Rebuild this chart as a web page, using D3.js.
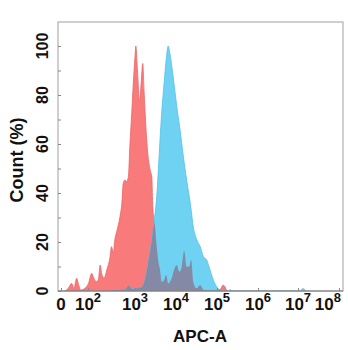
<!DOCTYPE html>
<html><head><meta charset="utf-8">
<script src="https://cdn.jsdelivr.net/npm/d3@7"></script>
<style>
html,body{margin:0;padding:0;background:#fff;}
text{font-family:"Liberation Sans",Arial,sans-serif;font-weight:bold;fill:#111;}
</style></head>
<body><svg id="c" width="348" height="350"></svg>
<script>
// x values are in axis units (log10 decades; 0 = "0")
const redX = [0.30,0.54,0.79,0.96,1.16,1.28,1.46,1.78,2.01,2.08,2.11,2.17,2.22,2.26,2.29,2.34,2.40,2.47,2.50,2.54,2.57,2.62,2.68,2.72,2.75,2.79,2.82,2.86,2.89,2.93,2.96,3.00,3.02,3.06,3.11,3.15,3.19,3.22,3.27,3.32,3.38,3.41,3.43,3.45,3.49,3.53,3.57,3.61,3.65,3.70,3.76,3.81,3.90,3.95,4.02,4.08,4.13,4.20,4.26,4.32,4.37,4.42,4.50,4.59,4.67,4.83,5.07,5.15,5.24];
const redY = [0,1.1,3.1,1.1,5.2,3.1,0.4,1.1,3.1,7.2,5.9,3.8,4.5,10.6,7.2,5.2,8.6,14.0,18.1,15.4,20.8,24.9,30.3,35.8,44.0,45.3,44.6,46.7,58.9,72.5,83.4,95.6,100,90.2,77.3,84.8,92.9,82.0,65.7,54.8,48.7,46.7,35.8,30.5,26.0,18.0,12.0,8.6,3.8,4.2,6.5,3.1,5.5,8.5,10.6,7.9,9.0,16.5,9.9,10.0,12.7,3.8,1.1,2.5,0.5,0.3,0.5,2.4,0];
const blueX = [2.50,2.57,2.80,2.86,2.94,3.07,3.16,3.24,3.32,3.41,3.47,3.53,3.57,3.61,3.65,3.71,3.76,3.81,3.85,3.92,3.98,4.03,4.10,4.18,4.26,4.36,4.42,4.51,4.59,4.67,4.75,4.83,4.91,4.99,5.07,5.17,5.28,5.32,5.36,7.05,7.12,7.19];
const blueY = [0,0.3,0.6,2.2,0.8,1.2,1.5,4.5,11.3,20.8,29.0,38.5,49.4,61.6,72.5,84.8,94.3,100,97.0,88.8,80.7,73.9,65.7,54.8,45.3,34.4,26.3,20.8,18.1,14.0,12.6,8.6,4.5,1.8,0.4,0,0,0.6,0,0,1.0,0];
const xTickVals = [0,2,3,4,5,6,7,8];
const xTickLabels = ["0","10|2","10|3","10|4","10|5","10|6","10|7","10|8"];
const yTickVals = [0,20,40,60,80,100];
const xTitle = "APC-A", yTitle = "Count  (%)";

const svg = d3.select("#c");
const L=58,R=343,T=22,B=291;
const x = d3.scaleLinear().domain([-0.22,0,2,3,4,5,6,7,8,8.1]).range([58,61,88,135,176,217,258,298,339,343]);
const y = d3.scaleLinear().domain([0,109.8]).range([B,T]);

const red = redX.map((v,i)=>[v,redY[i]]);
const blue = blueX.map((v,i)=>[v,blueY[i]]);
const area = d3.area().x(d=>x(d[0])).y0(y(0)).y1(d=>y(d[1])).curve(d3.curveMonotoneX);
const line = d3.line().x(d=>x(d[0])).y(d=>y(d[1])).curve(d3.curveMonotoneX);

const defs = svg.append("defs");
defs.append("clipPath").attr("id","bclip").append("path").attr("d",area(blue));
defs.append("clipPath").attr("id","plot").append("rect").attr("x",L).attr("y",T).attr("width",R-L).attr("height",B-T);

const g = svg.append("g").attr("clip-path","url(#plot)");
g.append("path").attr("d",area(red)).attr("fill","#f87a7b");
g.append("path").attr("d",line(red)).attr("fill","none").attr("stroke","#ee6466").attr("stroke-width",0.8);
g.append("path").attr("d",area(blue)).attr("fill","#6fd2f3");
g.append("path").attr("d",line(blue)).attr("fill","none").attr("stroke","#52c0e8").attr("stroke-width",0.8);
g.append("path").attr("d",area(red)).attr("fill","#8489a6").attr("clip-path","url(#bclip)");

// frame
svg.append("rect").attr("x",L).attr("y",T).attr("width",R-L).attr("height",B-T)
  .attr("fill","none").attr("stroke","#a0a0a0").attr("stroke-width",1);
svg.append("line").attr("x1",L).attr("x2",R).attr("y1",B).attr("y2",B).attr("stroke","#777").attr("stroke-width",1.2);

// y ticks
const yAxis = d3.axisRight(y).tickValues(d3.range(0,101,10)).tickSize(3).tickFormat("");
const ya = svg.append("g").attr("transform",`translate(${L},0)`).call(yAxis);
ya.select(".domain").remove();
ya.selectAll("line").attr("stroke","#888");
yTickVals.forEach(v=>{
  svg.append("text").attr("transform",`translate(48,${y(v)}) rotate(-90)`)
    .attr("text-anchor","middle").attr("font-size",16).text(v);
});

// x ticks
const xAxis = d3.axisTop(x).tickValues(xTickVals).tickSize(3).tickFormat("");
const xa = svg.append("g").attr("transform",`translate(0,${B})`).call(xAxis);
xa.select(".domain").remove();
xa.selectAll("line").attr("stroke","#888");
xTickVals.forEach((v,i)=>{
  const parts = xTickLabels[i].split("|");
  const last = i===xTickVals.length-1;
  const t = svg.append("text").attr("x", last?341:x(v)).attr("y",310)
    .attr("text-anchor", last?"end":"middle").attr("font-size",17);
  t.append("tspan").text(parts[0]);
  if(parts[1]) t.append("tspan").attr("dy",-8).attr("font-size",13).text(parts[1]);
});

svg.append("text").attr("x",200).attr("y",342).attr("text-anchor","middle").attr("font-size",17).text(xTitle);
svg.append("text").attr("transform",`translate(23,160) rotate(-90)`).attr("text-anchor","middle").attr("font-size",18).text(yTitle);
</script></body></html>
